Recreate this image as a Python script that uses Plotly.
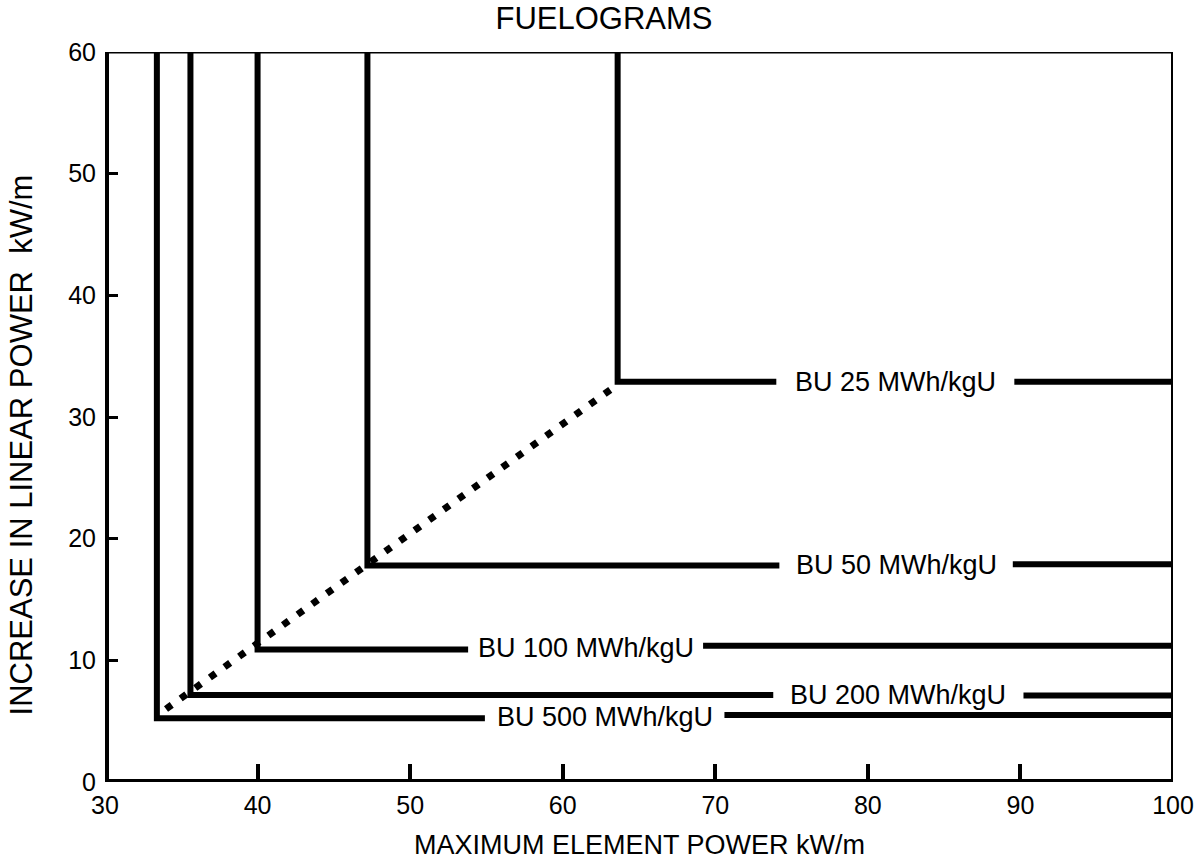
import plotly.graph_objects as go

# ---- data ----
labels = ["BU 25 MWh/kgU", "BU 50 MWh/kgU", "BU 100 MWh/kgU", "BU 200 MWh/kgU", "BU 500 MWh/kgU"]
corner_x = [63.6, 47.2, 40.0, 35.6, 33.4]      # max element power where curve turns (kW/m)
y_left = [32.9, 17.8, 10.9, 7.15, 5.25]        # horizontal level left of label (kW/m)
y_right = [32.9, 17.9, 11.2, 7.1, 5.5]         # horizontal level right of label (kW/m)
gap_start = [74.0, 74.2, 53.8, 73.8, 54.9]     # label gap start (x)
gap_end = [89.6, 89.5, 69.2, 90.2, 70.6]       # label gap end (x)
dot_x = [34.0, 63.3]
dot_y = [6.0, 32.4]
x_ticks = [30, 40, 50, 60, 70, 80, 90, 100]
y_ticks = [0, 10, 20, 30, 40, 50, 60]
X_MIN, X_MAX, Y_MIN, Y_MAX = 30, 100, 0, 60

FONT = "Liberation Sans, Arial, sans-serif"

fig = go.Figure()

for i, lab in enumerate(labels):
    xs = [corner_x[i], corner_x[i], gap_start[i], None, gap_end[i], X_MAX]
    ys = [Y_MAX, y_left[i], y_left[i], None, y_right[i], y_right[i]]
    fig.add_trace(go.Scatter(x=xs, y=ys, mode="lines",
                             line=dict(color="black", width=6),
                             hoverinfo="skip", showlegend=False))
    fig.add_annotation(x=(gap_start[i] + gap_end[i]) / 2,
                       y=(y_left[i] + y_right[i]) / 2,
                       text=lab, showarrow=False,
                       font=dict(family=FONT, size=27, color="black"),
                       xanchor="center", yanchor="middle")

fig.add_trace(go.Scatter(x=dot_x, y=dot_y, mode="lines",
                         line=dict(color="black", width=7, dash="7px,11px"),
                         hoverinfo="skip", showlegend=False))

# frame
frame = [
    (X_MIN, Y_MIN, X_MIN, Y_MAX, 8),
    (X_MIN, Y_MIN, X_MAX, Y_MIN, 6),
    (X_MIN, Y_MAX, X_MAX, Y_MAX, 3),
    (X_MAX, Y_MIN, X_MAX, Y_MAX, 4),
]
for x0, y0, x1, y1, w in frame:
    fig.add_shape(type="line", x0=x0, y0=y0, x1=x1, y1=y1, xref="x", yref="y",
                  line=dict(color="black", width=w), layer="above")

fig.add_annotation(text="MAXIMUM ELEMENT POWER kW/m", xref="paper", yref="paper",
                   x=0.5, y=-0.086, showarrow=False, xanchor="center", yanchor="middle",
                   font=dict(family=FONT, size=27, color="black"))
fig.add_annotation(text="INCREASE IN LINEAR POWER  kW/m", xref="paper", yref="paper",
                   x=-0.078, y=0.462, showarrow=False, textangle=-90,
                   xanchor="center", yanchor="middle",
                   font=dict(family=FONT, size=31, color="black"))

fig.update_layout(
    width=1196, height=861, autosize=False,
    margin=dict(l=105, r=23, t=52, b=79, autoexpand=False),
    paper_bgcolor="white", plot_bgcolor="white",
    title=dict(text="FUELOGRAMS", x=0.505, y=0.979, xanchor="center", yanchor="middle",
               font=dict(family=FONT, size=31, color="black")),
    xaxis=dict(range=[X_MIN, X_MAX], tickvals=x_ticks, ticktext=[str(v) for v in x_ticks],
               ticks="inside", ticklen=18, tickwidth=4, tickcolor="black",
               showgrid=False, zeroline=False, showline=False, automargin=False,
               ticklabelstandoff=6,
               tickfont=dict(family=FONT, size=25, color="black")),
    yaxis=dict(range=[Y_MIN, Y_MAX], tickvals=y_ticks, ticktext=[str(v) for v in y_ticks],
               ticks="inside", ticklen=13, tickwidth=3, tickcolor="black",
               showgrid=False, zeroline=False, showline=False, automargin=False,
               ticklabelstandoff=8,
               tickfont=dict(family=FONT, size=25, color="black")),
)

fig.write_html(
    "out.html",
    config={"responsive": False, "displayModeBar": False},
    post_script="document.body.style.margin='0';document.body.style.overflow='hidden';",
)
